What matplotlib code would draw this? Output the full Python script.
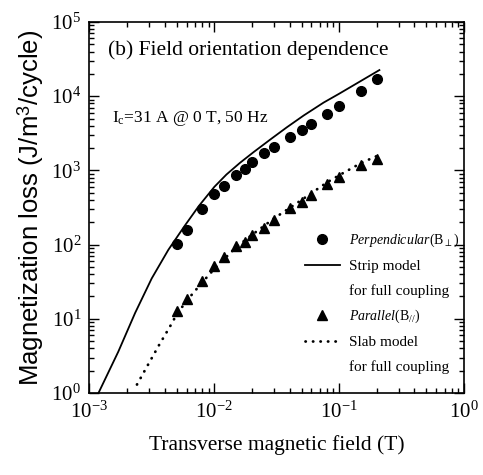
import numpy as np
import matplotlib
matplotlib.use('Agg')
import matplotlib.pyplot as plt
from matplotlib.ticker import LogLocator, NullFormatter

plt.rcParams['font.family'] = ['Liberation Serif', 'DejaVu Serif']
plt.rcParams['mathtext.fontset'] = 'custom'
plt.rcParams['mathtext.rm'] = 'Liberation Serif'
plt.rcParams['mathtext.it'] = 'Liberation Serif:italic'
plt.rcParams['mathtext.bf'] = 'Liberation Serif:bold'
plt.rcParams['mathtext.fallback'] = 'stix'

# ── DATA ──────────────────────────────────────────────────────────
# measured points (same field values for both orientations)
field = [0.005, 0.006, 0.008, 0.010, 0.012, 0.015, 0.0175, 0.020, 0.025,
         0.030, 0.040, 0.050, 0.060, 0.080, 0.100, 0.150, 0.200]
loss_perp = [102, 158, 300, 478, 619, 871, 1050, 1290, 1710,
             2080, 2860, 3480, 4240, 5770, 7400, 11800, 16900]
loss_par = [12.6, 18.6, 32.6, 50.8, 67.8, 94.4, 108, 133, 170,
            216, 307, 377, 469, 646, 809, 1186, 1416]

# strip model, full coupling
strip_b = [0.00118, 0.0017, 0.00232, 0.00315, 0.00428, 0.0058, 0.0075,
           0.0100, 0.0125, 0.016, 0.0205, 0.028, 0.038, 0.052, 0.075,
           0.100, 0.21]
strip_q = [1.0, 3.6, 12, 35, 85, 180, 330,
           600, 880, 1260, 1750, 2600, 3800, 5500, 8200,
           10800, 22500]

# slab model, full coupling
slab_b = [0.0024, 0.0029, 0.0036, 0.0044, 0.005, 0.006, 0.008, 0.010,
          0.015, 0.020, 0.030, 0.050, 0.080, 0.100, 0.150, 0.200]
slab_q = [1.3, 2.3, 4.4, 7.8, 11.5, 17.5, 31, 47,
          93, 135, 225, 400, 690, 860, 1260, 1560]

xticks = [1e-3, 1e-2, 1e-1, 1e0]
xticklabels = [r'$10^{-3}$', r'$10^{-2}$', r'$10^{-1}$', r'$10^{0}$']
yticks = [1e0, 1e1, 1e2, 1e3, 1e4, 1e5]
yticklabels = [r'$10^{0}$', r'$10^{1}$', r'$10^{2}$', r'$10^{3}$',
               r'$10^{4}$', r'$10^{5}$']

# ── PLOT ──────────────────────────────────────────────────────────
fig = plt.figure(figsize=(4.83, 4.75), dpi=100)
ax = fig.add_axes([0.1853, 0.1726, 0.7754, 0.7811])

ax.plot(field, loss_perp, 'o', color='black', markersize=7,
        label=r'$\mathit{Perpendicular}(\mathrm{B}_{\perp})$')
ax.plot(strip_b, strip_q, '-', color='black', linewidth=1.3,
        label='Strip model')
ax.plot([], [], ' ', label='for full coupling')
ax.plot(field, loss_par, '^', color='black', markersize=7.5,
        label=r'$\mathit{Parallel}(\mathrm{B}_{//})$')
ax.plot(slab_b, slab_q, color='black', linewidth=2.0,
        linestyle=(0, (0.1, 2.6)), dash_capstyle='round',
        label='Slab model')
ax.plot([], [], ' ', label='for full coupling')

ax.set_xscale('log')
ax.set_yscale('log')
ax.set_xlim(1e-3, 1e0)
ax.set_ylim(1e0, 1e5)

ax.set_xticks(xticks)
ax.set_xticklabels(xticklabels)
ax.set_yticks(yticks)
ax.set_yticklabels(yticklabels)
ax.xaxis.set_minor_locator(LogLocator(base=10, subs=np.arange(2, 10), numticks=20))
ax.yaxis.set_minor_locator(LogLocator(base=10, subs=np.arange(2, 10), numticks=20))
ax.xaxis.set_minor_formatter(NullFormatter())
ax.yaxis.set_minor_formatter(NullFormatter())
ax.tick_params(which='both', direction='in', top=True, right=True,
               labelsize=15, width=1.0)
ax.tick_params(which='major', length=7, pad=6)
ax.tick_params(which='minor', length=3.5)
for s in ax.spines.values():
    s.set_linewidth(1.2)

ax.set_xlabel('Transverse magnetic field (T)', fontsize=15.5, labelpad=9)
ax.set_ylabel(r'Magnetization loss (J/m$^\mathregular{3}$/cycle)', fontsize=18.5,
              family=['Liberation Sans', 'DejaVu Sans'], labelpad=4)

ax.text(0.05, 0.925, '(b) Field orientation dependence', transform=ax.transAxes,
        fontsize=15.5, va='center', ha='left')
ax.text(0.06, 0.74, r'I$_\mathrm{c}$=31 A @ 0 T, 50 Hz', transform=ax.transAxes,
        fontsize=12.5, va='center', ha='left')

leg = ax.legend(loc='upper left', bbox_to_anchor=(0.575, 0.434), frameon=False,
                fontsize=11, handlelength=2.3, handletextpad=0.6,
                labelspacing=0.68, borderpad=0, borderaxespad=0, numpoints=1)
# the italic orientation labels run wider than the plain ones
leg.get_texts()[0].set_fontsize(10)
leg.get_texts()[3].set_fontsize(10)

fig.savefig('out.png', dpi=100)
